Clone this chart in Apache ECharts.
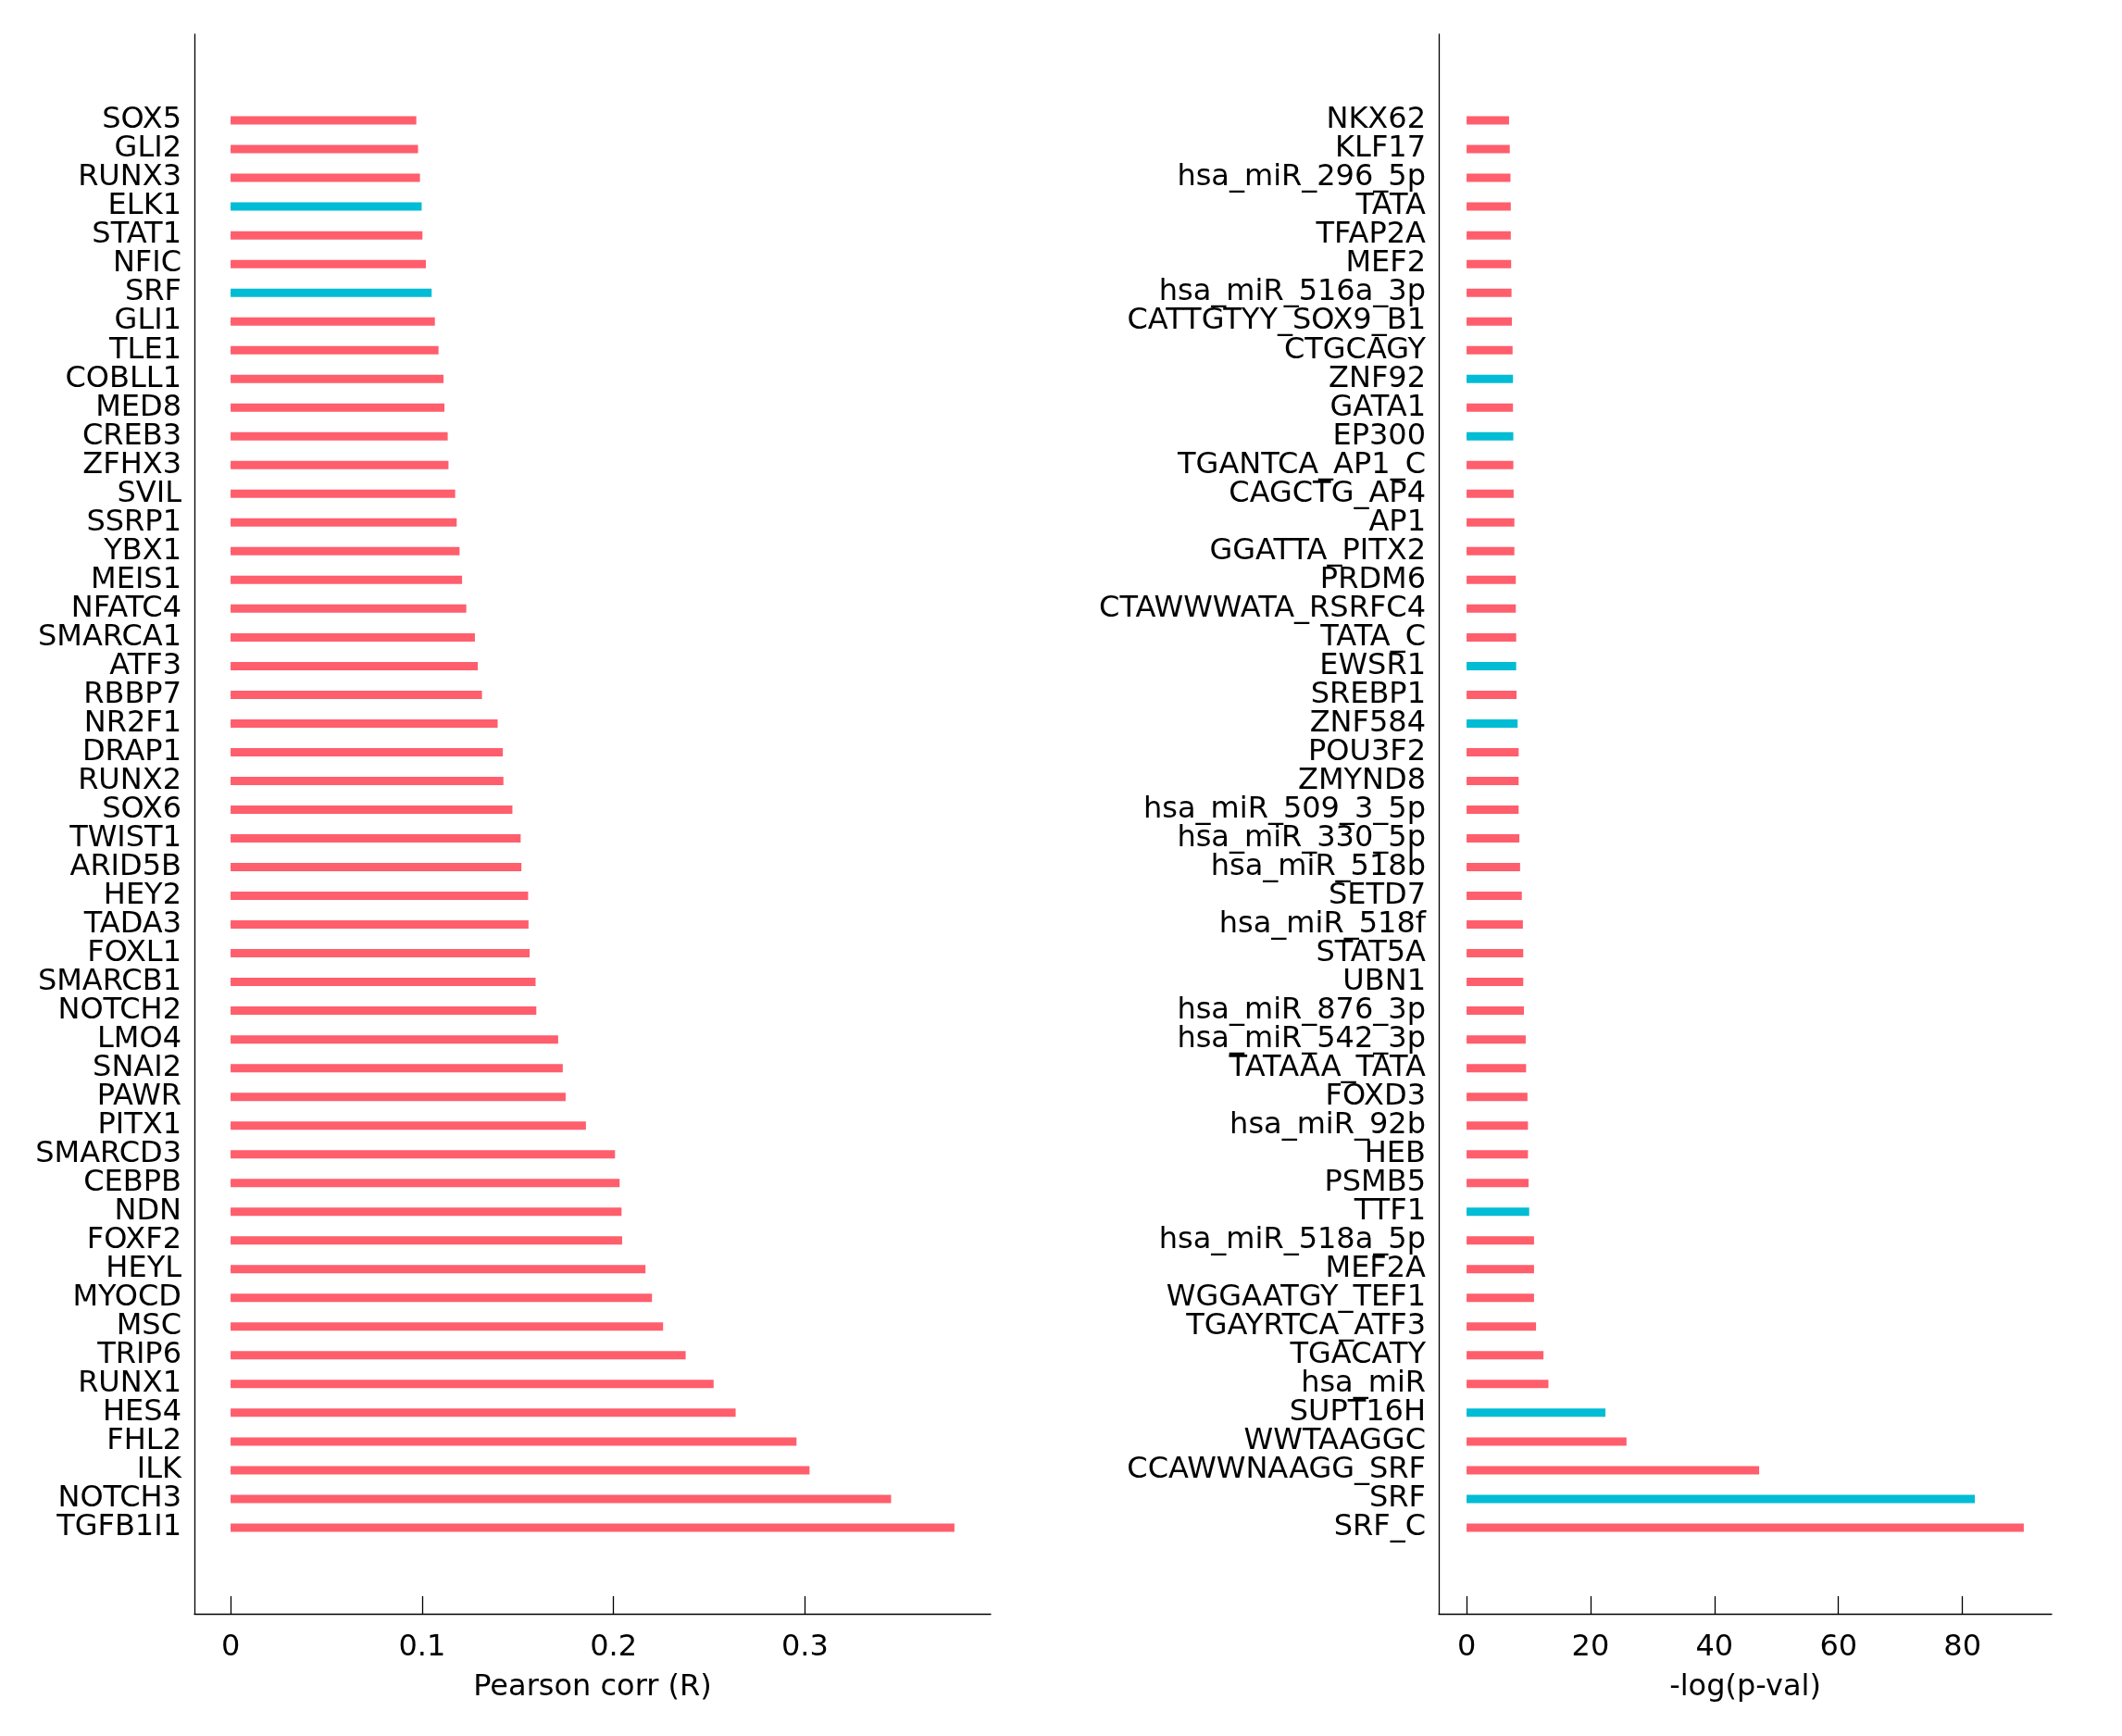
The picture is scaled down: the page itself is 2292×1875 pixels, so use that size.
<!DOCTYPE html>
<html><head><meta charset="utf-8">
<script src="https://cdn.jsdelivr.net/npm/echarts@6/dist/echarts.min.js"></script>
<style>html,body{margin:0;padding:0;background:#fff}#c{width:2292px;height:1875px}</style>
</head><body><div id="c"></div>
<script>
// ---------- DATA (top to bottom) ----------
const leftNames = ['SOX5','GLI2','RUNX3','ELK1','STAT1','NFIC','SRF','GLI1','TLE1','COBLL1','MED8','CREB3','ZFHX3','SVIL','SSRP1','YBX1','MEIS1','NFATC4','SMARCA1','ATF3','RBBP7','NR2F1','DRAP1','RUNX2','SOX6','TWIST1','ARID5B','HEY2','TADA3','FOXL1','SMARCB1','NOTCH2','LMO4','SNAI2','PAWR','PITX1','SMARCD3','CEBPB','NDN','FOXF2','HEYL','MYOCD','MSC','TRIP6','RUNX1','HES4','FHL2','ILK','NOTCH3','TGFB1I1'];
const leftValues = [0.0970,0.0979,0.0989,0.0998,0.1002,0.1020,0.1050,0.1067,0.1086,0.1112,0.1117,0.1134,0.1138,0.1173,0.1181,0.1196,0.1209,0.1231,0.1276,0.1291,0.1313,0.1395,0.1422,0.1425,0.1472,0.1515,0.1519,0.1554,0.1556,0.1562,0.1593,0.1597,0.1711,0.1735,0.1750,0.1856,0.2008,0.2032,0.2042,0.2045,0.2167,0.2201,0.2259,0.2377,0.2523,0.2638,0.2956,0.3024,0.3450,0.3781];
const leftHighlight = ['ELK1','SRF'];
const leftTicks = [0, 0.1, 0.2, 0.3];
const leftTitle = 'Pearson corr (R)';

const rightNames = ['NKX62','KLF17','hsa_miR_296_5p','TATA','TFAP2A','MEF2','hsa_miR_516a_3p','CATTGTYY_SOX9_B1','CTGCAGY','ZNF92','GATA1','EP300','TGANTCA_AP1_C','CAGCTG_AP4','AP1','GGATTA_PITX2','PRDM6','CTAWWWATA_RSRFC4','TATA_C','EWSR1','SREBP1','ZNF584','POU3F2','ZMYND8','hsa_miR_509_3_5p','hsa_miR_330_5p','hsa_miR_518b','SETD7','hsa_miR_518f','STAT5A','UBN1','hsa_miR_876_3p','hsa_miR_542_3p','TATAAA_TATA','FOXD3','hsa_miR_92b','HEB','PSMB5','TTF1','hsa_miR_518a_5p','MEF2A','WGGAATGY_TEF1','TGAYRTCA_ATF3','TGACATY','hsa_miR','SUPT16H','WWTAAGGC','CCAWWNAAGG_SRF','SRF','SRF_C'];
const rightValues = [6.85,6.97,7.08,7.13,7.13,7.19,7.25,7.31,7.42,7.48,7.48,7.54,7.54,7.59,7.71,7.71,7.94,7.94,8.00,8.00,8.06,8.23,8.40,8.40,8.40,8.51,8.63,8.91,9.08,9.14,9.14,9.25,9.54,9.60,9.82,9.90,9.90,10.0,10.1,10.88,10.88,10.88,11.2,12.4,13.2,22.4,25.8,47.2,82.0,89.9];
const rightHighlight = ['ZNF92','EP300','EWSR1','ZNF584','TTF1','SUPT16H','SRF'];
const rightTicks = [0, 20, 40, 60, 80];
const rightTitle = '-log(p-val)';

// ---------- STYLE / LAYOUT ----------
const RED = '#FF5E6C', CYAN = '#00BCD4';
const FONT = 'DejaVu Sans', FS = 32, INK = '#000';
const plotTop = 37, plotBottom = 1743;
const nBands = 55;
const band = (plotBottom - plotTop) / nBands;
const dataTop = plotTop + 2.5 * band;
const dataH = 50 * band;

const panels = [
  {left: 210, width: 860, names: leftNames, values: leftValues, hi: leftHighlight, ticks: leftTicks, title: leftTitle},
  {left: 1554, width: 662, names: rightNames, values: rightValues, hi: rightHighlight, ticks: rightTicks, title: rightTitle}
];

const grid = [], xAxis = [], yAxis = [], series = [];
panels.forEach((p, i) => {
  const vmax = Math.max(...p.values);
  const mn = -0.05 * vmax, mx = 1.05 * vmax;
  const f = 2 * i, d = 2 * i + 1;
  grid.push({left: p.left, width: p.width, top: plotTop, height: plotBottom - plotTop});
  grid.push({left: p.left, width: p.width, top: dataTop, height: dataH});
  // frame axes
  xAxis.push({
    type: 'value', gridIndex: f, min: mn, max: mx,
    axisLine: {show: true, onZero: false, lineStyle: {color: INK, width: 1.3}},
    axisTick: {show: true, inside: true, length: 19, customValues: p.ticks, lineStyle: {color: INK, width: 1.3}},
    axisLabel: {show: true, customValues: p.ticks, color: INK, fontFamily: FONT, fontSize: FS, margin: 21},
    splitLine: {show: false},
    name: p.title, nameLocation: 'middle', nameGap: 64,
    nameTextStyle: {color: INK, fontFamily: FONT, fontSize: FS}
  });
  yAxis.push({
    type: 'value', gridIndex: f, min: 0, max: 1,
    axisLine: {show: true, onZero: false, lineStyle: {color: INK, width: 1.3}},
    axisTick: {show: false}, axisLabel: {show: false}, splitLine: {show: false}
  });
  // data axes
  xAxis.push({type: 'value', gridIndex: d, min: mn, max: mx, show: false});
  yAxis.push({
    type: 'category', gridIndex: d, data: p.names, inverse: true,
    axisLine: {show: false},
    axisTick: {show: true, inside: true, alignWithLabel: true, length: 17, lineStyle: {color: INK, width: 1.3}},
    axisLabel: {show: true, interval: 0, color: INK, fontFamily: FONT, fontSize: FS, margin: 14, padding: [4, 0, 0, 0]},
    splitLine: {show: false}
  });
  series.push({
    type: 'bar', xAxisIndex: d, yAxisIndex: d, barWidth: 9,
    data: p.values,
    itemStyle: {color: (q) => p.hi.includes(p.names[q.dataIndex]) ? CYAN : RED},
    silent: true
  });
});

const chart = echarts.init(document.getElementById('c'));
chart.setOption({animation: false, backgroundColor: '#fff', grid, xAxis, yAxis, series});
</script>
</body></html>
